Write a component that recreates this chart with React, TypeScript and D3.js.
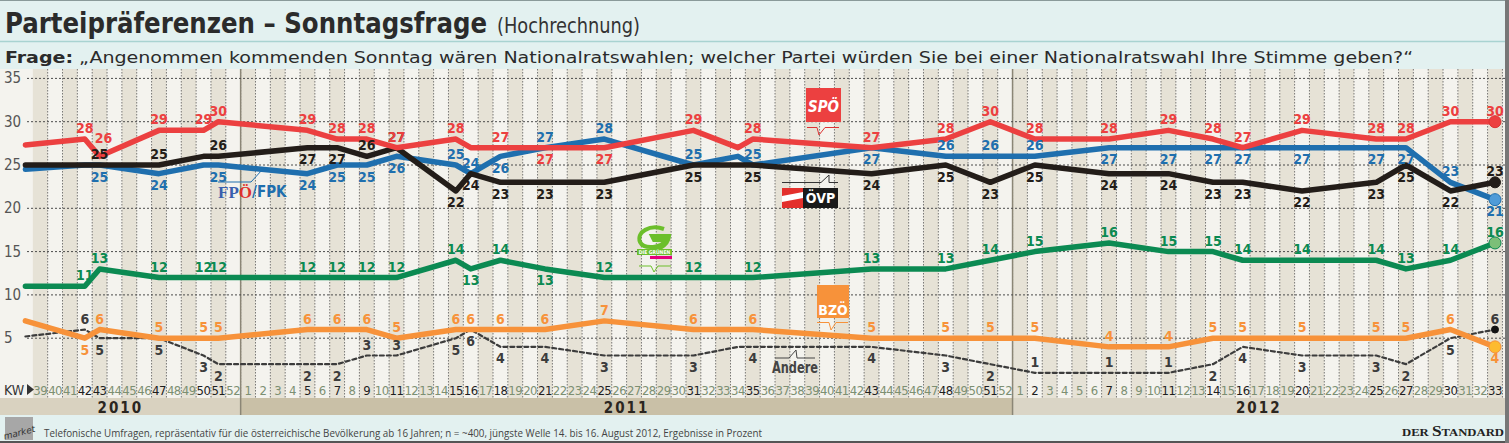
import React from "react";
import * as d3 from "d3";

const W = 1509;
const H = 443;

// calendar weeks on the x axis
const weeks2010 = [39, 40, 41, 42, 43, 44, 45, 46, 47, 48, 49, 50, 51, 52];
const weeks2011 = [1, 2, 3, 4, 5, 6, 7, 8, 9, 10, 11, 12, 13, 14, 15, 16, 17, 18, 19, 20, 21, 22, 23, 24, 25, 26, 27, 28, 29, 30, 31, 32, 33, 34, 35, 36, 37, 38, 39, 40, 41, 42, 43, 44, 45, 46, 47, 48, 49, 50, 51, 52];
const weeks2012 = [1, 2, 3, 4, 5, 6, 7, 8, 9, 10, 11, 12, 13, 14, 15, 16, 17, 18, 19, 20, 21, 22, 23, 24, 25, 26, 27, 28, 29, 30, 31, 32, 33];
const yearLabels = ["2010", "2011", "2012"];
const yTicks = [5, 10, 15, 20, 25, 30, 35];

// survey weeks (first entry = line start)
const pollWeeks = [
  "2010-38", "2010-42", "2010-43", "2010-47", "2010-50", "2010-51",
  "2011-5", "2011-7", "2011-9", "2011-11", "2011-15", "2011-16", "2011-18", "2011-21", "2011-25", "2011-31", "2011-34", "2011-35", "2011-43", "2011-48", "2011-51",
  "2012-2", "2012-7", "2012-11", "2012-14", "2012-16", "2012-20", "2012-25", "2012-27", "2012-30", "2012-33",
];
const markedWeeks = [
  "2010-42", "2010-43", "2010-47", "2010-50", "2010-51",
  "2011-5", "2011-7", "2011-9", "2011-11", "2011-15", "2011-16", "2011-18", "2011-21", "2011-25", "2011-31", "2011-35", "2011-43", "2011-48", "2011-51",
  "2012-2", "2012-7", "2012-11", "2012-14", "2012-16", "2012-20", "2012-25", "2012-27", "2012-30", "2012-33",
];

const spo = [27.3, 28, 26, 29, 29, 30, 29, 28, 28, 27, 28, 27, 27, 27, 27, 29, 27, 28, 27, 28, 30, 28, 28, 29, 28, 27, 29, 28, 28, 30, 30];
const ovp = [25, 25, 25, 25, 26, 26, 27, 27, 26, 27, 22, 24, 23, 23, 23, 25, 25, 25, 24, 25, 23, 25, 24, 24, 23, 23, 22, 23, 25, 22, 23];
const fpo = [24.5, 25, 25, 24, 25, 25, 24, 25, 25, 26, 25, 24, 26, 27, 28, 25, 26, 25, 27, 26, 26, 26, 27, 27, 27, 27, 27, 27, 27, 23, 21];
const gruene = [11, 11, 13, 12, 12, 12, 12, 12, 12, 12, 14, 13, 14, 13, 12, 12, 12, 12, 13, 13, 14, 15, 16, 15, 15, 14, 14, 14, 13, 14, 16];
const bzo = [7, 5, 6, 5, 5, 5, 6, 6, 6, 5, 6, 6, 6, 6, 7, 6, 6, 6, 5, 5, 5, 5, 4, 4, 5, 5, 5, 5, 5, 6, 4];
const andere = [5.2, 6, 5, 5, 3, 2, 2, 2, 3, 3, 5, 6, 4, 4, 3, 3, 4, 4, 4, 3, 2, 1, 1, 1, 2, 4, 3, 3, 2, 5, 6];

// label side per point: a = above, A = further above, b = below, - = none
const spoLab = "-aAaaaaaaaa-abba-aaaaaaaaaaaaaa";
const ovpLab = "--aa-abbaabbbbbb-bbbbbbbbbbbbba";
const fpoLab = "--bb-bbbbbaabaaa-abaaabbbbbbbab";
const grueneLab = "-aaaaaaaaaababaa-aaaaaaaaaaaaaa";
const bzoLab = "-baaaaaaaaaaaaaa-aaaaaaaaaaaaab";
const andereLab = "-abbbbbbaabbbbbb-bbbbaaabbbbbba";

const COND = "'DejaVu Sans Condensed', 'DejaVu Sans', sans-serif";

function weekIndex(s: string) {
  const [yy, ww] = s.split("-").map(Number);
  if (yy === 2010) return ww - weeks2010[0];
  if (yy === 2011) return weeks2010.length + ww - 1;
  return weeks2010.length + weeks2011.length + ww - 1;
}

export default function App() {
  const x = d3.scaleLinear().domain([-1, 98]).range([25.4, 1495]);
  const y = d3.scaleLinear().domain([0, 35]).range([381.5, 78.4]);
  const step = x(1) - x(0);

  const allWeeks = [
    ...weeks2010.map((w) => ({ yr: "2010", w })),
    ...weeks2011.map((w) => ({ yr: "2011", w })),
    ...weeks2012.map((w) => ({ yr: "2012", w })),
  ];
  const px = pollWeeks.map(weekIndex);

  const series = [
    { key: "andere", values: andere, lab: andereLab, color: "#3c3c3c", text: "#3c3c3c", width: 2.2, dash: "4,3", dot: "#111", dotStroke: "#111", r: 3.5 },
    { key: "bzo", values: bzo, lab: bzoLab, color: "#f7923a", text: "#f7923a", width: 5.5, dash: null, dot: "#fdbb2f", dotStroke: "#f7923a", r: 6 },
    { key: "gruene", values: gruene, lab: grueneLab, color: "#0b8a52", text: "#0b8a52", width: 5.5, dash: null, dot: "#7cbf78", dotStroke: "#0b8a52", r: 6 },
    { key: "fpo", values: fpo, lab: fpoLab, color: "#1f6fae", text: "#1f6fae", width: 5.5, dash: null, dot: "#4f9bd8", dotStroke: "#1f6fae", r: 6 },
    { key: "ovp", values: ovp, lab: ovpLab, color: "#231d19", text: "#231d19", width: 5.5, dash: null, dot: "#231d19", dotStroke: "#231d19", r: 5.5 },
    { key: "spo", values: spo, lab: spoLab, color: "#ec4040", text: "#ec4040", width: 5.5, dash: null, dot: "#ec4040", dotStroke: "#d33", r: 6 },
  ];

  const line = d3
    .line<number>()
    .x((_, i) => x(px[i]))
    .y((v) => y(v));

  const plotTop = 69;
  const plotBottom = 398;
  const yearB1 = x(weeks2010.length - 0.5);
  const yearB2 = x(weeks2010.length + weeks2011.length - 0.5);

  const labelY = (v: number, side: string) =>
    side === "a" ? y(v) - 6 : side === "A" ? y(v) - 13 : y(v) + 16.5;

  return (
    <div style={{ position: "absolute", left: 0, top: 0 }}>
      <svg width={W} height={H} style={{ display: "block" }}>
        {/* header */}
        <rect x={0} y={0} width={W} height={H} fill="#e3f1f0" />
        <line x1={0} x2={W} y1={0.5} y2={0.5} stroke="#8a9a9a" />
        <text x={5} y={33} fontFamily={COND} fontWeight="bold" fontSize={28} fill="#2b2b2b" textLength={482} lengthAdjust="spacingAndGlyphs">
          Parteipräferenzen – Sonntagsfrage
        </text>
        <text x={497} y={33} fontFamily={COND} fontSize={21} fill="#333" textLength={143} lengthAdjust="spacingAndGlyphs">
          (Hochrechnung)
        </text>
        <line x1={0} x2={W} y1={41.5} y2={41.5} stroke="#a9d3d1" strokeWidth={1.5} />
        <text x={5} y={63} fontFamily={COND} fontSize={16} fill="#2b2b2b" textLength={1408} lengthAdjust="spacingAndGlyphs">
          <tspan fontWeight="bold">Frage:</tspan>
          <tspan> „Angenommen kommenden Sonntag wären Nationalratswahlen; welcher Partei würden Sie bei einer Nationalratswahl Ihre Stimme geben?“</tspan>
        </text>

        {/* plot background */}
        <rect x={0} y={plotTop} width={1505} height={plotBottom - plotTop} fill="#f4f3ee" />
        {allWeeks.map((d, i) =>
          i % 2 === 0 ? (
            <rect key={"c" + i} x={x(i) - step / 2} y={plotTop} width={step} height={plotBottom - plotTop} fill="#e6e2d6" />
          ) : null
        )}

        {/* year band */}
        <rect x={0} y={plotBottom} width={yearB1} height={17} fill="#d9d2c0" />
        <rect x={yearB1} y={plotBottom} width={yearB2 - yearB1} height={17} fill="#c9c0a7" />
        <rect x={yearB2} y={plotBottom} width={1505 - yearB2} height={17} fill="#dad5c6" />
        {yearLabels.map((yr, k) => {
          const cx = k === 0 ? yearB1 / 2 : k === 1 ? (yearB1 + yearB2) / 2 : (yearB2 + 1505) / 2;
          return (
            <text key={yr} x={cx} y={413} textAnchor="middle" fontFamily={COND} fontWeight="bold" fontSize={15} letterSpacing={2} fill="#2b2620">
              {yr}
            </text>
          );
        })}

        {/* vertical grid */}
        {allWeeks.map((d, i) => (
          <line key={"v" + i} x1={x(i) + step / 2} x2={x(i) + step / 2} y1={plotTop} y2={plotBottom} stroke="#5a5a5a" strokeWidth={0.8} strokeDasharray="1.5,1.5" />
        ))}
        <line x1={yearB1} x2={yearB1} y1={plotTop} y2={plotBottom + 17} stroke="#8b8676" strokeWidth={1.5} />
        <line x1={yearB2} x2={yearB2} y1={plotTop} y2={plotBottom + 17} stroke="#8b8676" strokeWidth={1.5} />

        {/* horizontal grid */}
        {yTicks.map((t) => (
          <g key={"h" + t}>
            <line x1={27} x2={1505} y1={y(t)} y2={y(t)} stroke="#4a4a4a" strokeWidth={1} strokeDasharray="2,2" />
            <text x={4} y={y(t) + 5} fontFamily={COND} fontSize={15} fill="#555">
              {t}
            </text>
          </g>
        ))}

        {/* week labels */}
        <text x={4} y={395} fontFamily={COND} fontSize={14} fill="#333">KW</text>
        <path d="M27,384 L34,389.5 L27,395 Z" fill="#333" />
        {allWeeks.map((d, i) => {
          const marked = markedWeeks.includes(d.yr + "-" + d.w);
          return (
            <text key={"w" + i} x={x(i)} y={395} textAnchor="middle" fontFamily={COND} fontSize={13} fill={marked ? "#1e1e1e" : "#7c8f72"} letterSpacing={-0.5}>
              {d.w}
            </text>
          );
        })}

        {/* party logos */}
        <g>
          <polyline points="218,182 251,182 262,170" fill="none" stroke="#1f6fae" strokeWidth={1} />
          <text x={218} y={198} fontFamily="'Liberation Serif', serif" fontWeight="bold" fontSize={17} fill="#3a5fae">
            FP<tspan fill="#e0302c">Ö</tspan>
          </text>
          <text x={252} y={197} fontFamily={COND} fontWeight="bold" fontSize={15} fill="#1f6fae">/FPK</text>
        </g>
        <g>
          <rect x={806} y={88} width={35} height={34} fill="#ec4040" />
          <text x={823.5} y={112} textAnchor="middle" fontFamily={COND} fontStyle="italic" fontWeight="bold" fontSize={15} fill="#fff">SPÖ</text>
          <polyline points="807,127.5 817,127.5 819,135 825,127.5 839,127.5" fill="none" stroke="#d33" strokeWidth={1} />
        </g>
        <g>
          <polyline points="782,182.5 821,182.5 829,175 829,182.5 838,182.5" fill="none" stroke="#333" strokeWidth={1} />
          <rect x={782} y={188} width={21} height={20} fill="#e3302c" />
          <path d="M782,196 L803,192 L803,198 L782,202 Z" fill="#fff" />
          <rect x={803} y={188} width={35} height={20} fill="#1a1a1a" />
          <text x={820.5} y={203} textAnchor="middle" fontFamily={COND} fontWeight="bold" fontSize={14} fill="#fff">ÖVP</text>
        </g>
        <g>
          <path d="M664,229 C650,224 636,232 640,242 C644,250 662,248 666,240 L654,240 L652,236 L669,236 C668,246 656,252 646,250" fill="none" stroke="#6cbf2b" strokeWidth={4} />
          <rect x={637} y={249} width={35} height={6} fill="#6cbf2b" />
          <text x={654.5} y={254} textAnchor="middle" fontFamily={COND} fontWeight="bold" fontSize={5} fill="#fff">DIE GRÜNEN</text>
          <rect x={650} y={256} width={22} height={3} fill="#e4007c" />
          <polyline points="639,266 651,266 654,272 658,266 671,266" fill="none" stroke="#6cbf2b" strokeWidth={1} />
        </g>
        <g>
          <rect x={817} y={285} width={32} height={33} fill="#f7923a" />
          <text x={833} y={315} textAnchor="middle" fontFamily={COND} fontWeight="bold" fontSize={14} fill="#fff">BZÖ</text>
          <polyline points="817,322.5 829,322.5 831,330 836,322.5 848,322.5" fill="none" stroke="#f7923a" strokeWidth={1} />
        </g>
        <g>
          <polyline points="775,358 789,358 796,350 797,358 815,358" fill="none" stroke="#444" strokeWidth={1} />
          <text x={772} y={373} fontFamily={COND} fontWeight="bold" fontSize={15} fill="#444" textLength={46} lengthAdjust="spacingAndGlyphs">Andere</text>
        </g>

        {/* lines */}
        {series.map((s) => (
          <path
            key={s.key}
            d={line(s.values) || ""}
            fill="none"
            stroke={s.color}
            strokeWidth={s.width}
            strokeLinejoin="round"
            strokeLinecap="round"
            strokeDasharray={s.dash || undefined}
          />
        ))}
        {series.map((s) => {
          const last = s.values.length - 1;
          return <circle key={"d" + s.key} cx={x(px[last])} cy={y(s.values[last])} r={s.r} fill={s.dot} stroke={s.dotStroke} strokeWidth={1} />;
        })}

        {/* value labels */}
        {series.map((s) =>
          s.values.map((v, i) => {
            const side = s.lab[i];
            if (side === "-") return null;
            return (
              <text
                key={s.key + "l" + i}
                x={x(px[i]) + (side === "A" ? 4 : 0)}
                y={labelY(v, side)}
                textAnchor="middle"
                fontFamily={COND}
                fontWeight="bold"
                fontSize={14}
                fill={s.text}
              >
                {Math.round(v)}
              </text>
            );
          })
        )}

        {/* footer */}
        <rect x={0} y={415} width={W} height={26} fill="#e3f1f0" />
        <rect x={5} y={417} width={28} height={23} fill="#a7a7a7" />
        <text x={3} y={436} fontFamily="'DejaVu Sans', sans-serif" fontStyle="italic" fontSize={9} fill="#333" transform="rotate(-14 18 432)">
          market
        </text>
        <text x={44} y={437} fontFamily="'Open Sans', sans-serif" fontSize={11.5} fill="#444" textLength={718} lengthAdjust="spacingAndGlyphs">
          Telefonische Umfragen, repräsentativ für die österreichische Bevölkerung ab 16 Jahren; n = ~400, jüngste Welle 14. bis 16. August 2012, Ergebnisse in Prozent
        </text>
        <text x={1402} y={436} fontFamily="'Liberation Serif', serif" fontWeight="bold" fontSize={11} fill="#222" textLength={102} lengthAdjust="spacingAndGlyphs">
          DER <tspan fontSize={15}>S</tspan>TANDARD
        </text>
        <rect x={0} y={441} width={W} height={2} fill="#555" />
        <rect x={1505} y={0} width={4} height={H} fill="#777" />
      </svg>
    </div>
  );
}
